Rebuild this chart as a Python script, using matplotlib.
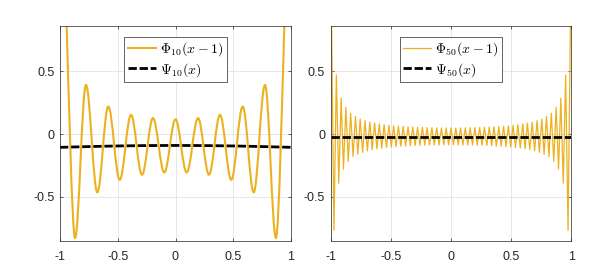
import matplotlib
matplotlib.use('Agg')
import matplotlib.pyplot as plt
from matplotlib.path import Path
from matplotlib.patches import PathPatch

plt.rcParams['font.family'] = ['Liberation Sans', 'DejaVu Sans']
plt.rcParams['mathtext.fontset'] = 'cm'
plt.rcParams['axes.unicode_minus'] = False

ORANGE = '#EDB120'
AXCOL = '#262626'

# left panel: Phi_10(x-1), local extrema
phi10_x = [-0.870, -0.775, -0.677, -0.582, -0.483, -0.385, -0.290, -0.195, -0.097,
           0.0, 0.097, 0.195, 0.290, 0.385, 0.483, 0.582, 0.677, 0.775, 0.870]
phi10_y = [-0.826, 0.391, -0.463, 0.219, -0.363, 0.153, -0.323, 0.127, -0.305,
           0.118, -0.305, 0.127, -0.323, 0.153, -0.363, 0.219, -0.463, 0.391, -0.826]
# where the curve leaves the top of the box, and its value at x = +-1
phi10_edge_x = [-1.0, -0.942, 0.942, 1.0]
phi10_edge_y = [2.6, 0.854, 0.854, 2.6]

psi10_x = [-1.0, -0.75, -0.5, -0.25, 0.0, 0.25, 0.5, 0.75, 1.0]
psi10_y = [-0.105, -0.099, -0.094, -0.091, -0.090, -0.091, -0.094, -0.099, -0.105]

# right panel: Phi_50(x-1), endpoints and extrema
phi50_x = [-1.0,
           -0.973, -0.953, -0.933, -0.913, -0.894, -0.874, -0.854, -0.834, -0.814, -0.794,
           -0.774, -0.755, -0.735, -0.715, -0.695, -0.675, -0.655, -0.635, -0.616, -0.596,
           -0.576, -0.556, -0.536, -0.516, -0.496, -0.477, -0.457, -0.437, -0.417, -0.397,
           -0.377, -0.357, -0.338, -0.318, -0.298, -0.278, -0.258, -0.238, -0.218, -0.199,
           -0.179, -0.159, -0.139, -0.119, -0.099, -0.079, -0.060, -0.040, -0.020,
           0.0,
           0.020, 0.040, 0.060, 0.079, 0.099, 0.119, 0.139, 0.159, 0.179,
           0.199, 0.218, 0.238, 0.258, 0.278, 0.298, 0.318, 0.338, 0.357, 0.377,
           0.397, 0.417, 0.437, 0.457, 0.477, 0.496, 0.516, 0.536, 0.556, 0.576,
           0.596, 0.616, 0.635, 0.655, 0.675, 0.695, 0.715, 0.735, 0.755, 0.774,
           0.794, 0.814, 0.834, 0.854, 0.874, 0.894, 0.913, 0.933, 0.953, 0.973,
           1.0]
phi50_y = [1.5,
           -0.765, 0.47, -0.39, 0.286, -0.278, 0.214, -0.217, 0.166, -0.178, 0.14,
           -0.16, 0.12, -0.145, 0.107, -0.133, 0.096, -0.124, 0.088, -0.117, 0.081,
           -0.111, 0.075, -0.106, 0.07, -0.102, 0.066, -0.099, 0.063, -0.096, 0.06,
           -0.094, 0.058, -0.092, 0.056, -0.090, 0.054, -0.089, 0.053, -0.088, 0.052,
           -0.087, 0.051, -0.086, 0.050, -0.086, 0.049, -0.085, 0.049, -0.085,
           0.048,
           -0.085, 0.049, -0.085, 0.049, -0.086, 0.050, -0.086, 0.051, -0.087,
           0.052, -0.088, 0.053, -0.089, 0.054, -0.090, 0.056, -0.092, 0.058, -0.094,
           0.06, -0.096, 0.063, -0.099, 0.066, -0.102, 0.07, -0.106, 0.075, -0.111,
           0.081, -0.117, 0.088, -0.124, 0.096, -0.133, 0.107, -0.145, 0.12, -0.16,
           0.14, -0.178, 0.166, -0.217, 0.214, -0.278, 0.286, -0.39, 0.47, -0.765,
           1.5]

psi50_x = [-1.0, 0.0, 1.0]
psi50_y = [-0.02, -0.02, -0.02]

xticks = [-1, -0.5, 0, 0.5, 1]
xticklabels = ['-1', '-0.5', '0', '0.5', '1']
yticks = [-0.5, 0, 0.5]
yticklabels = ['-0.5', '0', '0.5']


def extrema_path(xs, ys, ex, ey):
    # smooth curve through the extrema: bezier pieces with flat tangents at each extremum
    a = 0.363
    verts = [(ex[0], ey[0]), (ex[1], ey[1])]
    codes = [Path.MOVETO, Path.LINETO]
    # steep rise from the first minimum to the top of the box
    verts += [(ex[1] + 0.012, ey[1] - 0.36), (xs[0] - 0.025, ys[0]), (xs[0], ys[0])]
    codes += [Path.CURVE4] * 3
    for i in range(len(xs) - 1):
        dx = xs[i+1] - xs[i]
        verts += [(xs[i] + a*dx, ys[i]), (xs[i+1] - a*dx, ys[i+1]), (xs[i+1], ys[i+1])]
        codes += [Path.CURVE4] * 3
    verts += [(xs[-1] + 0.025, ys[-1]), (ex[2] - 0.012, ey[2] - 0.36), (ex[2], ey[2])]
    codes += [Path.CURVE4] * 3
    verts.append((ex[3], ey[3]))
    codes.append(Path.LINETO)
    return Path(verts, codes)


def style_axes(ax):
    ax.set_xlim(-1, 1)
    ax.set_ylim(-0.85, 0.86)
    ax.set_xticks(xticks)
    ax.set_xticklabels(xticklabels)
    ax.set_yticks(yticks)
    ax.set_yticklabels(yticklabels)
    ax.grid(True, color='#e3e3e3', lw=0.6)
    ax.set_axisbelow(True)
    for s in ax.spines.values():
        s.set_color(AXCOL)
        s.set_linewidth(0.5)
    ax.tick_params(direction='in', length=2.5, width=0.5, color=AXCOL,
                   labelcolor=AXCOL, labelsize=9, top=True, right=True)
    ax.tick_params(axis='x', pad=7)
    ax.tick_params(axis='y', pad=4)


fig = plt.figure(figsize=(6.06, 2.73), dpi=100)
ax1 = fig.add_axes([60/606, 32/273, 231/606, 215/273])
ax2 = fig.add_axes([330.7/606, 32/273, 240.6/606, 215/273])

ax1.add_patch(PathPatch(extrema_path(phi10_x, phi10_y, phi10_edge_x, phi10_edge_y),
                        fill=False, edgecolor=ORANGE, lw=1.5))
ax1.plot([], [], color=ORANGE, lw=1.5, label=r'$\Phi_{10}(x-1)$')
ax1.plot(psi10_x, psi10_y, color='k', lw=2, dashes=(3.0, 1.0), label=r'$\Psi_{10}(x)$')

ax2.plot(phi50_x, phi50_y, color=ORANGE, lw=0.9, label=r'$\Phi_{50}(x-1)$')
ax2.plot(psi50_x, psi50_y, color='k', lw=2, dashes=(3.0, 1.0), label=r'$\Psi_{50}(x)$')

for ax in (ax1, ax2):
    style_axes(ax)
    leg = ax.legend(loc='upper center', bbox_to_anchor=(0.5, 0.95), borderaxespad=0,
                    fontsize=10, fancybox=False, framealpha=1, handlelength=2.0,
                    handletextpad=0.3, borderpad=0.25, labelspacing=0.2)
    leg.get_frame().set_edgecolor(AXCOL)
    leg.get_frame().set_linewidth(0.5)

fig.savefig('out.png', dpi=100)
